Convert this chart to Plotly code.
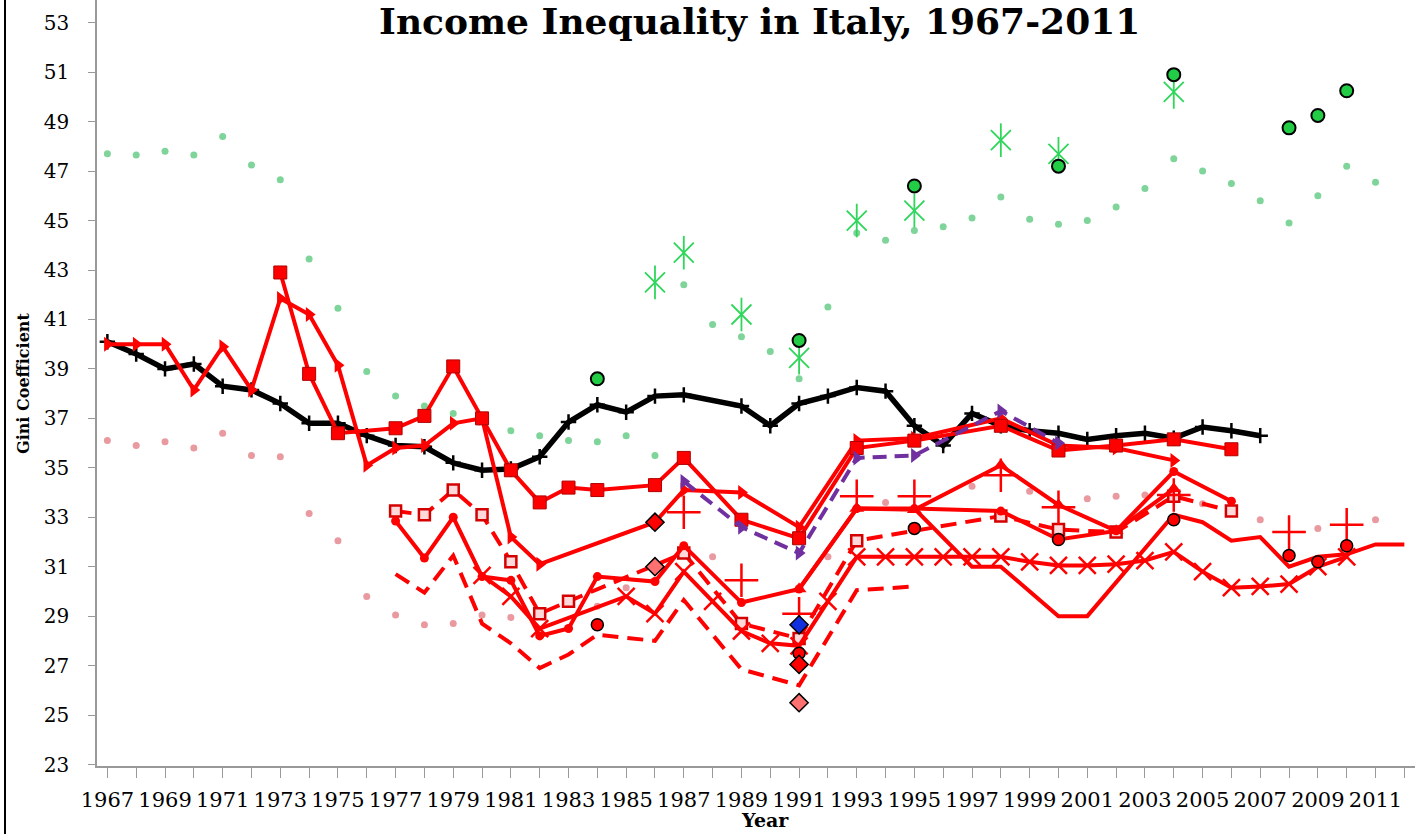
import plotly.graph_objects as go

# ---------------- data ----------------
black_years = [1967,1968,1969,1970,1971,1972,1973,1974,1975,1976,1977,1978,1979,1980,1981,1982,1983,1984,1985,1986,1987,
               1989,1990,1991,1992,1993,1994,1995,1996,1997,1998,1999,2000,2001,2002,2003,2004,2005,2006,2007]
black_vals = [40.1,39.6,39.0,39.2,38.3,38.15,37.6,36.8,36.8,36.3,35.9,35.85,35.2,34.9,34.95,35.45,36.85,37.55,37.25,37.9,37.95,
              37.5,36.7,37.6,37.9,38.25,38.1,36.7,35.9,37.2,36.7,36.5,36.4,36.15,36.3,36.4,36.2,36.65,36.5,36.3]

green_dot_years = list(range(1967, 2012))
green_dot_vals = [47.7,47.65,47.8,47.65,48.4,47.25,46.65,43.45,41.45,38.9,37.9,37.5,37.2,37.05,36.5,36.3,36.1,36.05,36.3,35.5,
                  42.4,40.8,40.3,39.7,38.6,41.5,44.5,44.2,44.6,44.75,45.1,45.95,45.05,44.85,45.0,45.55,46.3,47.5,47.0,46.5,
                  45.8,44.9,46.0,47.2,46.55]

pink_dot_years = [1967,1968,1969,1970,1971,1972,1973,1974,1975,1976,1977,1978,1979,1980,1981,1984,1985,1988,1992,1994,
                  1997,1999,2001,2002,2003,2005,2007,2009,2011]
pink_dot_vals = [36.1,35.9,36.05,35.8,36.4,35.5,35.45,33.15,32.05,29.8,29.05,28.65,28.7,29.05,28.95,29.4,30.15,31.4,31.4,33.6,
                 34.25,34.05,33.75,33.85,33.9,33.55,32.9,32.55,32.9]

green_star_years = [1986,1987,1989,1991,1993,1995,1998,2000,2004]
green_star_vals = [42.5,43.7,41.2,39.45,45.0,45.4,48.25,47.7,50.2]

green_circ_years = [1984,1991,1995,2000,2004,2008,2009,2010]
green_circ_vals = [38.6,40.15,46.4,47.2,50.9,48.75,49.25,50.25]

sq_years = [1973,1974,1975,1977,1978,1979,1980,1981,1982,1983,1984,1986,1987,1989,1991,1993,1995,1998,2000,2002,2004,2006]
sq_vals = [42.9,38.8,36.4,36.6,37.1,39.1,37.0,34.9,33.6,34.2,34.1,34.3,35.4,32.9,32.15,35.8,36.1,36.7,35.7,35.9,36.15,35.75]

arrow_years = [1967,1968,1969,1970,1971,1972,1973,1974,1975,1976,1977,1978,1979,1980,1981,1982,1986,1987,1989,1991,
               1993,1995,1998,2000,2002,2004]
arrow_vals = [40.0,40.0,40.0,38.15,39.9,38.15,41.85,41.2,39.15,35.1,35.8,35.9,36.8,37.0,32.2,31.1,32.8,34.1,34.0,32.6,
              36.1,36.2,37.0,35.9,35.8,35.3]

purple_years = [1987,1989,1991,1993,1995,1998,2000]
purple_vals = [34.45,32.6,31.55,35.4,35.5,37.3,36.0]

sqd_years = [1977,1978,1979,1980,1981,1982,1983,1987,1989,1991,1993,1998,2000,2002,2004,2006]
sqd_vals = [33.25,33.1,34.1,33.1,31.2,29.1,29.6,31.55,28.7,28.1,32.05,33.05,32.5,32.4,33.85,33.25]

circ_years = [1977,1978,1979,1980,1981,1982,1983,1984,1986,1987,1989,1991,1993,1995,1998,2000,2002,2004,2006]
circ_vals = [32.85,31.35,33.0,30.6,30.45,28.2,28.5,30.6,30.4,31.85,29.55,30.1,33.35,33.35,33.25,32.1,32.45,34.85,33.65]

tri_years = [1991,1993,1995,1998,2000,2002,2004]
tri_vals = [30.1,33.35,33.3,35.1,33.5,32.45,34.15]

x_years = [1980,1981,1982,1985,1986,1987,1988,1989,1990,1991,1992,1993,1994,1995,1996,1997,1998,1999,2000,2001,2002,
           2003,2004,2005,2006,2007,2008,2009,2010]
x_vals = [30.65,29.8,28.5,29.8,29.1,30.8,29.6,28.4,27.9,27.8,29.6,31.4,31.4,31.4,31.4,31.4,31.4,31.2,31.05,31.05,31.1,
          31.25,31.6,30.8,30.15,30.2,30.3,31.0,31.4]

dl_years = [1977,1978,1979,1980,1981,1982,1983,1984,1986,1987,1989,1991,1993,1995]
dl_vals = [30.7,29.95,31.45,28.7,27.9,26.9,27.45,28.25,28.0,29.65,26.85,26.2,30.05,30.2]

plain_years = [1995,1997,1998,2000,2001,2004,2005,2006,2007,2008,2009,2010,2011,2012]
plain_vals = [33.35,31.0,31.0,29.0,29.0,33.1,32.8,32.05,32.2,31.0,31.4,31.5,31.9,31.9]

plus_years = [1987,1989,1991,1993,1995,1998,2000,2004,2008,2010]
plus_vals = [33.2,30.45,29.1,33.85,33.85,34.7,33.4,33.9,32.4,32.7]

circ_ol_years = [1984,1991,1995,2000,2004,2008,2009,2010]
circ_ol_vals = [28.65,27.5,32.55,32.1,32.9,31.45,31.2,31.85]

dia_red_years = [1986,1991]
dia_red_vals = [32.8,27.05]
dia_white_years = [1986,1991]
dia_white_vals = [31.0,25.5]
dia_blue_years = [1991]
dia_blue_vals = [28.65]

tick_years = list(range(1967, 2012, 2))
y_ticks = list(range(23, 54, 2))

# ---------------- figure ----------------
RED = "#FF0000"
GREEN = "#2ed65a"
LW = 4
fig = go.Figure()

def add(x, y, mode, **kw):
    fig.add_trace(go.Scatter(x=x, y=y, mode=mode, showlegend=False, hoverinfo="x+y", **kw))

# background dot series
add(green_dot_years, green_dot_vals, "markers", marker=dict(symbol="circle", size=7, color="#7fd49a"))
add(pink_dot_years, pink_dot_vals, "markers", marker=dict(symbol="circle", size=7, color="#e99aa0"))

# black line
add(black_years, black_vals, "lines+markers", line=dict(color="black", width=5.5),
    marker=dict(symbol="cross-thin-open", size=11, color="black", line=dict(color="black", width=2.5)))

# red lines
add(dl_years, dl_vals, "lines", line=dict(color=RED, width=LW, dash="16px,9px"))
add(sqd_years, sqd_vals, "lines+markers", line=dict(color=RED, width=LW, dash="16px,9px"),
    marker=dict(symbol="square", size=11, color="#ffd9d9", line=dict(color="#d40000", width=2.5)))
add(x_years, x_vals, "lines+markers", line=dict(color=RED, width=LW),
    marker=dict(symbol="x-thin-open", size=17, color=RED, line=dict(color=RED, width=2.5)))
add(plain_years, plain_vals, "lines", line=dict(color=RED, width=LW))
add(circ_years, circ_vals, "lines+markers", line=dict(color=RED, width=LW),
    marker=dict(symbol="circle", size=9, color=RED))
add(tri_years, tri_vals, "lines+markers", line=dict(color=RED, width=LW),
    marker=dict(symbol="triangle-up", size=13, color=RED))
add(arrow_years, arrow_vals, "lines+markers", line=dict(color=RED, width=LW),
    marker=dict(symbol="triangle-right", size=13, color=RED))
add(sq_years, sq_vals, "lines+markers", line=dict(color=RED, width=LW),
    marker=dict(symbol="square", size=13, color=RED, line=dict(color="#b00000", width=1)))
add(purple_years, purple_vals, "lines+markers", line=dict(color="#7030A0", width=LW, dash="14px,8px"),
    marker=dict(symbol="triangle-right", size=13, color="#7030A0"))

# marker-only red series
add(plus_years, plus_vals, "markers",
    marker=dict(symbol="cross-thin-open", size=24, color=RED, line=dict(color=RED, width=2.5)))
add(circ_ol_years, circ_ol_vals, "markers", marker=dict(symbol="circle", size=12, color=RED, line=dict(color="black", width=1.5)))
add(dia_red_years, dia_red_vals, "markers", marker=dict(symbol="diamond", size=14, color=RED, line=dict(color="black", width=1.5)))
add(dia_white_years, dia_white_vals, "markers", marker=dict(symbol="diamond", size=14, color="#ff7070", line=dict(color="black", width=1.5)))
add(dia_blue_years, dia_blue_vals, "markers", marker=dict(symbol="diamond", size=14, color="#1030e0", line=dict(color="black", width=1.5)))

# green markers
add(green_star_years, green_star_vals, "markers",
    marker=dict(symbol="x-thin-open", size=20, color=GREEN, line=dict(color=GREEN, width=1.8)))
add(green_star_years, green_star_vals, "markers",
    marker=dict(symbol="line-ns-open", size=24, color=GREEN, line=dict(color=GREEN, width=1.8)))
add(green_circ_years, green_circ_vals, "markers", marker=dict(symbol="circle", size=13, color="#22cc44", line=dict(color="black", width=2)))

fig.update_layout(
    width=1420, height=834,
    margin=dict(l=97, r=5, t=0, b=68),
    paper_bgcolor="white", plot_bgcolor="white",
    title=dict(text="<b>Income Inequality in Italy, 1967-2011</b>", x=0.535, xanchor="center",
               y=0.974, yanchor="middle", font=dict(family="DejaVu Serif", size=36, color="black")),
    xaxis=dict(range=[1966.64, 2012.37], tickmode="array", tickvals=tick_years, ticktext=[str(t) for t in tick_years],
               showgrid=False, zeroline=False, showline=True, linecolor="#999999", linewidth=1.5, automargin=False,
               ticks="outside", ticklen=10, tickcolor="#999999", ticklabelstandoff=4,
               minor=dict(dtick=1, tick0=1967, ticks="outside", ticklen=10, tickcolor="#999999", showgrid=False),
               tickfont=dict(family="DejaVu Serif", size=21, color="black")),
    yaxis=dict(range=[22.94, 53.92], tickmode="array", tickvals=y_ticks, ticktext=[str(t) for t in y_ticks],
               showgrid=False, zeroline=False, showline=True, linecolor="#999999", linewidth=1.5, automargin=False,
               ticks="outside", ticklen=7, tickcolor="#999999", ticklabelstandoff=15,
               tickfont=dict(family="DejaVu Serif", size=20, color="black")),
)

fig.add_annotation(text="<b>Gini Coefficient</b>", xref="paper", yref="paper", x=(23-97)/1318, y=(766-384)/766,
                   textangle=-90, showarrow=False, xanchor="center", yanchor="middle",
                   font=dict(family="DejaVu Serif", size=16, color="black"))
fig.add_annotation(text="<b>Year</b>", xref="paper", yref="paper", x=(765-97)/1318, y=(766-820)/766,
                   showarrow=False, xanchor="center", yanchor="middle",
                   font=dict(family="DejaVu Serif", size=19, color="black"))

# chart frame line on the left
fig.add_shape(type="line", xref="paper", yref="paper", x0=-92/1318, x1=-92/1318, y0=-68/766, y1=1.0,
              line=dict(color="black", width=2))

fig.write_html("out.html", config={"displayModeBar": False},
               post_script="document.body.style.margin='0';document.body.style.padding='0';")
